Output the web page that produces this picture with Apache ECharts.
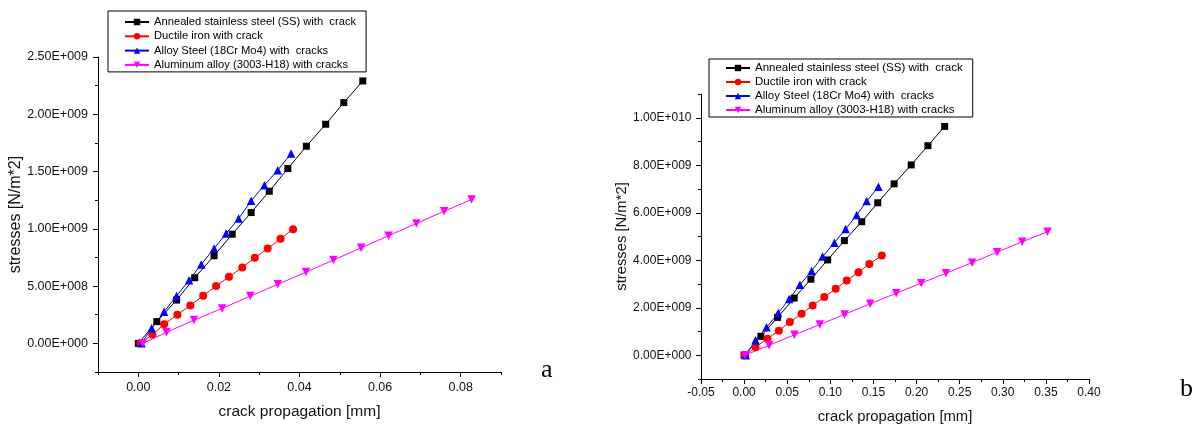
<!DOCTYPE html>
<html>
<head>
<meta charset="utf-8">
<script src="https://cdn.jsdelivr.net/npm/echarts@6/dist/echarts.min.js"></script>
<style>
html,body{margin:0;padding:0;background:#fff;}
#chart{width:1199px;height:426px;}
</style>
</head>
<body>
<div id="chart"></div>
<script>
// ---- series names ----
const seriesNames = [
  "Annealed stainless steel (SS) with  crack",
  "Ductile iron with crack",
  "Alloy Steel (18Cr Mo4) with  cracks",
  "Aluminum alloy (3003-H18) with cracks"
];

// ---- chart a data ----
const ssX_a = [0, 0.0046, 0.0095, 0.0140, 0.0188, 0.0233, 0.0280, 0.0325, 0.0371, 0.0417, 0.0465, 0.0510, 0.0557];
const ssY_a = [0, 0.19e9, 0.378e9, 0.573e9, 0.765e9, 0.953e9, 1.142e9, 1.328e9, 1.526e9, 1.721e9, 1.913e9, 2.102e9, 2.291e9];
const diX_a = [0.0005, 0.0035, 0.0064, 0.0097, 0.0129, 0.0161, 0.0193, 0.0225, 0.0258, 0.0289, 0.0321, 0.0353, 0.0384];
const diY_a = [0, 0.078e9, 0.166e9, 0.25e9, 0.331e9, 0.416e9, 0.5e9, 0.581e9, 0.663e9, 0.747e9, 0.828e9, 0.913e9, 0.997e9];
const alX_a = [0.0008, 0.0033, 0.0064, 0.0095, 0.0126, 0.0156, 0.0188, 0.0218, 0.0249, 0.0280, 0.0313, 0.0346, 0.0379];
const alY_a = [0, 0.131e9, 0.276e9, 0.413e9, 0.552e9, 0.689e9, 0.828e9, 0.959e9, 1.090e9, 1.244e9, 1.381e9, 1.512e9, 1.657e9];
const auX_a = [0.0011, 0.0070, 0.0138, 0.0208, 0.0278, 0.0346, 0.0416, 0.0484, 0.0553, 0.0621, 0.0690, 0.0759, 0.0827];
const auY_a = [0, 0.096e9, 0.203e9, 0.305e9, 0.413e9, 0.515e9, 0.622e9, 0.727e9, 0.834e9, 0.939e9, 1.047e9, 1.154e9, 1.256e9];

// ---- chart b data ----
const ssX_b = [0, 0.0194, 0.0388, 0.0581, 0.0775, 0.0969, 0.1163, 0.1364, 0.155, 0.174, 0.1938, 0.2132, 0.2326];
const ssY_b = [0, 0.797e9, 1.594e9, 2.406e9, 3.203e9, 4.014e9, 4.825e9, 5.622e9, 6.42e9, 7.217e9, 8.014e9, 8.825e9, 9.636e9];
const diX_b = [0.001, 0.0132, 0.0271, 0.0403, 0.0531, 0.0667, 0.0795, 0.093, 0.1062, 0.119, 0.1326, 0.1453, 0.1597];
const diY_b = [0, 0.336e9, 0.699e9, 1.035e9, 1.399e9, 1.748e9, 2.098e9, 2.448e9, 2.797e9, 3.147e9, 3.497e9, 3.846e9, 4.196e9];
const alX_b = [0.002, 0.0132, 0.026, 0.0395, 0.0523, 0.0647, 0.0783, 0.091, 0.1047, 0.1178, 0.1306, 0.1422, 0.1558];
const alY_b = [0, 0.629e9, 1.175e9, 1.776e9, 2.364e9, 2.965e9, 3.552e9, 4.154e9, 4.741e9, 5.315e9, 5.902e9, 6.49e9, 7.09e9];
const auX_b = [0.001, 0.0290, 0.0584, 0.0878, 0.1165, 0.1462, 0.1764, 0.2054, 0.2341, 0.2645, 0.2934, 0.3225, 0.3519];
const auY_b = [0, 0.42e9, 0.86e9, 1.29e9, 1.72e9, 2.168e9, 2.615e9, 3.035e9, 3.455e9, 3.9e9, 4.34e9, 4.78e9, 5.2e9];

// ---- tick labels ----
const xTicksA = [0, 0.02, 0.04, 0.06, 0.08];
const yTicksA = [0, 5e8, 1e9, 1.5e9, 2e9, 2.5e9];
const xTicksB = [-0.05, 0, 0.05, 0.10, 0.15, 0.20, 0.25, 0.30, 0.35, 0.40];
const yTicksB = [0, 2e9, 4e9, 6e9, 8e9, 1e10];

const xTitle = "crack propagation [mm]";
const yTitle = "stresses [N/m*2]";

function sci(v) {
  if (Math.abs(v) < 1e-6) return "0.00E+000";
  let e = Math.floor(Math.log10(Math.abs(v)));
  let m = v / Math.pow(10, e);
  if (Math.abs(m) >= 9.995) { m /= 10; e += 1; }
  const es = String(Math.abs(e)).padStart(3, "0");
  return m.toFixed(2) + "E" + (e >= 0 ? "+" : "-") + es;
}
function fix2(v) { return (Math.abs(v) < 1e-9 ? 0 : v).toFixed(2); }

const FONT = "'Liberation Sans', Arial, sans-serif";

function axisPair(gridIndex, min, max, step, majors, fmt, o) {
  const main = {
    type: 'value', gridIndex, min, max, interval: step,
    position: o.position,
    axisLine: { show: true, onZero: false, lineStyle: { color: '#000', width: 1 } },
    axisTick: { show: true, inside: false, length: 5, customValues: majors, lineStyle: { color: '#000', width: 1 } },
    axisLabel: { show: true, customValues: majors, formatter: fmt, margin: o.margin,
      fontSize: o.fontSize, color: '#111', fontFamily: FONT, showMinLabel: true, showMaxLabel: true },
    splitLine: { show: false },
    name: o.name, nameLocation: 'middle', nameGap: o.nameGap,
    nameTextStyle: { fontSize: o.nameSize, color: '#111', fontFamily: FONT }
  };
  const minor = {
    type: 'value', gridIndex, min, max, interval: step,
    position: o.position,
    axisLine: { show: false, onZero: false },
    axisTick: { show: true, inside: false, length: 3, lineStyle: { color: '#000', width: 1 } },
    axisLabel: { show: false },
    splitLine: { show: false }
  };
  return [main, minor];
}

const xA = axisPair(0, -0.01, 0.09, 0.01, xTicksA, fix2, { position: 'bottom', margin: 9, fontSize: 12.5, name: xTitle, nameGap: 32, nameSize: 15.5 });
const yA = axisPair(0, -2.5e8, 2.5e9, 2.5e8, yTicksA, sci, { position: 'left', margin: 10, fontSize: 12.5, name: yTitle, nameGap: 70, nameSize: 16 });
const xB = axisPair(1, -0.05, 0.40, 0.025, xTicksB, fix2, { position: 'bottom', margin: 8, fontSize: 12, name: xTitle, nameGap: 30, nameSize: 14.8 });
const yB = axisPair(1, -1e9, 1.1e10, 1e9, yTicksB, sci, { position: 'left', margin: 9.5, fontSize: 12, name: yTitle, nameGap: 68, nameSize: 14.8 });

const styles = [
  { color: '#000000', symbol: 'rect', size: 7 },
  { color: '#ff0000', symbol: 'circle', size: 8 },
  { color: '#0000ff', symbol: 'triangle', size: 8.5 },
  { color: '#ff00ff', symbol: 'path://M0,0L10,0L5,9Z', size: 8.5 }
];

function pairs(xs, ys) { return xs.map((x, i) => [x, ys[i]]); }

const dataA = [pairs(ssX_a, ssY_a), pairs(diX_a, diY_a), pairs(alX_a, alY_a), pairs(auX_a, auY_a)];
const dataB = [pairs(ssX_b, ssY_b), pairs(diX_b, diY_b), pairs(alX_b, alY_b), pairs(auX_b, auY_b)];

const series = [];
function addSeries(data, xi, yi) {
  data.forEach((d, i) => {
    const s = styles[i];
    series.push({
      type: 'line', name: seriesNames[i], xAxisIndex: xi, yAxisIndex: yi, data: d,
      symbol: s.symbol, symbolSize: s.size, showAllSymbol: true,
      itemStyle: { color: s.color },
      lineStyle: { color: s.color, width: 1 },
      emphasis: { disabled: true }, animation: false
    });
  });
}
addSeries(dataA, 0, 0);
addSeries(dataB, 2, 2);

function legend(left, top, pad, gap, fs) {
  return {
    left, top, orient: 'vertical', itemWidth: 24, itemHeight: 8, itemGap: gap,
    padding: pad, borderColor: '#000', borderWidth: 1, selectedMode: false,
    textStyle: { fontSize: fs, fontFamily: FONT, color: '#000', lineHeight: 12 },
    data: seriesNames
  };
}

const option = {
  animation: false,
  backgroundColor: '#fff',
  grid: [
    { left: 98, top: 57, width: 403, height: 315, containLabel: false, outerBoundsMode: 'none' },
    { left: 701, top: 94, width: 388, height: 285, containLabel: false, outerBoundsMode: 'none' }
  ],
  xAxis: [xA[0], xA[1], xB[0], xB[1]],
  yAxis: [yA[0], yA[1], yB[0], yB[1]],
  legend: [legend(108, 11, [5, 10, 1, 16], 2.3, 11.2), legend(709, 59, [3, 10, 1, 16], 2, 11.5)],
  graphic: [
    { type: 'text', left: 541, top: 357, style: { text: 'a', font: "26px 'Liberation Serif', 'Times New Roman', serif", fill: '#000' } },
    { type: 'text', left: 1180, top: 376, style: { text: 'b', font: "26px 'Liberation Serif', 'Times New Roman', serif", fill: '#000' } }
  ],
  series
};

const chart = echarts.init(document.getElementById('chart'), null, { renderer: 'canvas' });
chart.setOption(option);
</script>
</body>
</html>
